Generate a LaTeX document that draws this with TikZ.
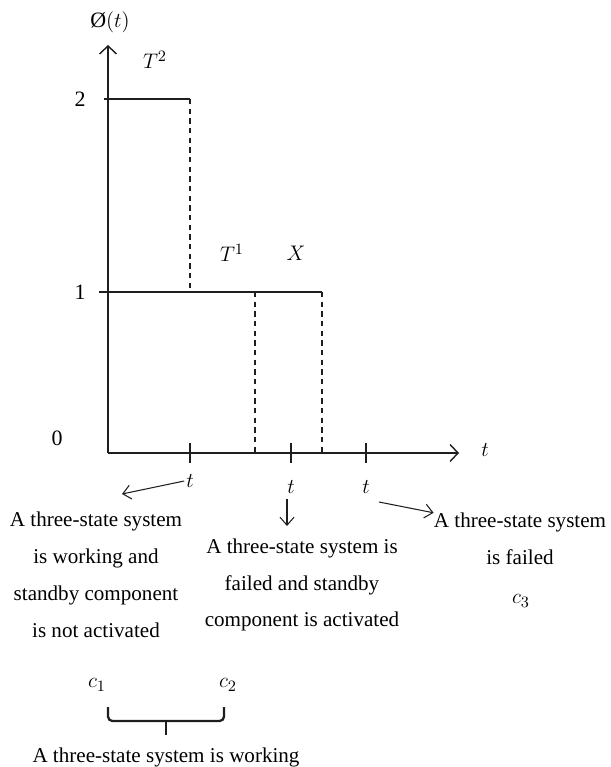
\documentclass[tikz,border=0pt]{standalone}
\usepackage{fontspec}
\setmainfont{Liberation Serif}
\usepackage{tikz}
\usetikzlibrary{
  arrows.meta,
  positioning,
  calc
}
\definecolor{ink}{RGB}{30,30,30}

\begin{document}
\begin{tikzpicture}[x=0.02cm, y=-0.02cm,
    axis/.style={draw=ink, line width=0.8pt, -{Straight Barb[length=1.6mm,width=3.4mm]}},
    level/.style={draw=ink, line width=0.8pt},
    guide/.style={draw=ink, line width=0.7pt, dashed, dash pattern=on 3pt off 2.5pt},
    pointer/.style={draw=ink, line width=0.6pt, -{Straight Barb[length=1.6mm,width=2.8mm]}},
    state/.style={font=\fontsize{12}{21}\selectfont, align=center, inner sep=0pt},
    lbl/.style={font=\fontsize{12.5}{12.5}\selectfont, inner sep=1pt}]
  \useasboundingbox (0,0) rectangle (611,767);

  % axes
  \coordinate (origin) at (108,453);
  \coordinate (ytop) at (108,45);
  \coordinate (xend) at (459,453);
  \draw[axis] (origin) -- (ytop);
  \draw[axis] (origin) -- (xend);
  \node[lbl] (ylabel) at (110,22) {Ø$(t)$};
  \node[lbl] (xlabel) at (485,450) {$t$};

  % levels
  \node[lbl] (lvltwo) at (80,99) {2};
  \node[lbl] (lvlone) at (80,292) {1};
  \node[lbl] (lvlzero) at (57,438) {0};
  \coordinate (twoa) at (104,99);
  \coordinate (twob) at (190,99);
  \coordinate (onea) at (99,292);
  \coordinate (oneb) at (190,292);
  \coordinate (onec) at (322,292);
  \draw[level] (twoa) -- (twob);
  \draw[level] (onea) -- (onec);
  \draw[guide] (twob) -- (oneb);
  \draw[guide] (255,292) -- (255,453);
  \draw[guide] (onec) -- (322,453);

  \node[lbl] (ttwo) at (155,60) {$T^2$};
  \node[lbl] (tone) at (232,253) {$T^1$};
  \node[lbl] (xlife) at (296,253) {$X$};

  % ticks on the time axis
  \foreach \tx/\ty [count=\i] in {190/481, 291/487, 366/487} {
    \draw[level] (\tx,443) -- (\tx,463);
    \node[lbl] (tick\i) at (\tx,\ty) {$t$};
  }

  % states
  \node[state] (working) at (96,575) {A three-state system\\is working and\\standby component\\is not activated};
  \node[state] (standby) at (302,585) {A three-state system is\\failed and standby\\component is activated};
  \node[state] (failed) at (520,539) {A three-state system\\is failed};
  \node[lbl] (cthree) at (521,601) {$c_3$};

  \draw[pointer] (tick1.west) -- (122,494);
  \draw[pointer] (287,499) -- (287,526);
  \draw[pointer] (379,502) -- (failed.north west);

  % bracket under c1 c2
  \node[lbl] (cone) at (97,685) {$c_1$};
  \node[lbl] (ctwo) at (228,685) {$c_2$};
  \coordinate (bra) at (108,707);
  \coordinate (brb) at (224,707);
  \coordinate (brtip) at (166,735);
  \draw[ink, line width=1.3pt, rounded corners=2.5pt] (bra) -- ++(0,14) -| (brb);
  \draw[ink, line width=1.3pt] (166,721) -- (brtip);
  \node[state] (overall) at (166,757) {A three-state system is working};
\end{tikzpicture}
\end{document}
